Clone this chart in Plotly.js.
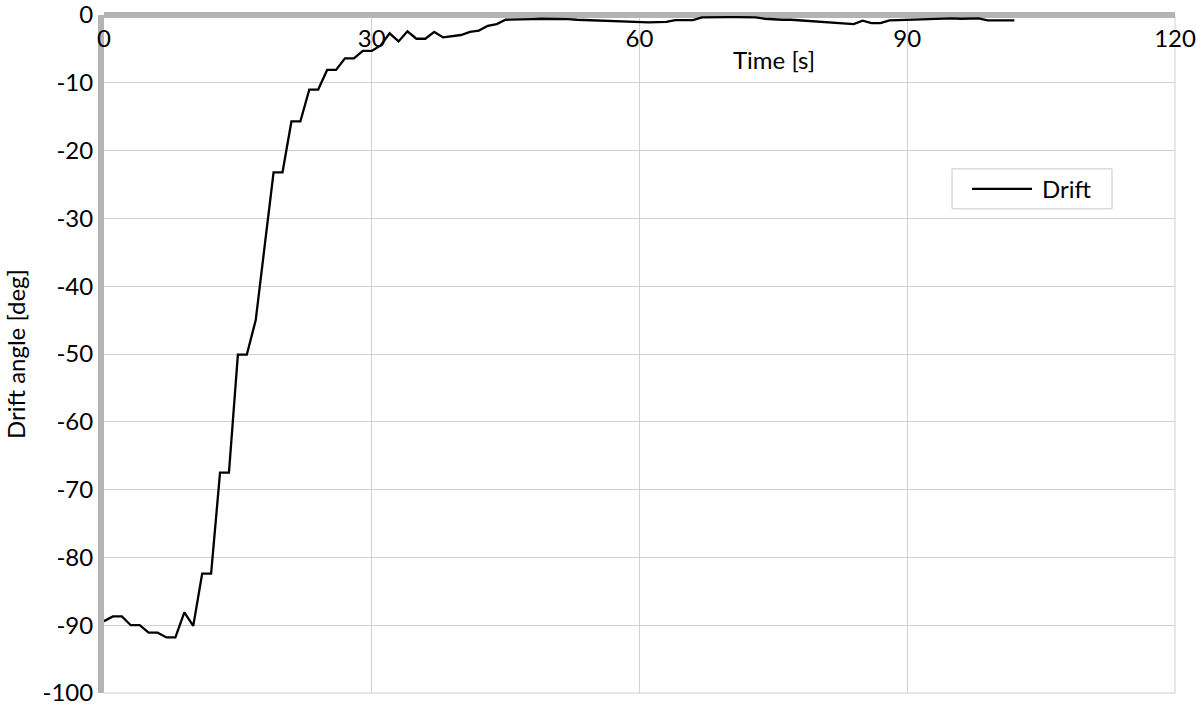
<!DOCTYPE html>
<html>
<head>
<meta charset="utf-8">
<script src="https://cdn.plot.ly/plotly-3.0.1.min.js"></script>
<style>html,body{margin:0;padding:0;background:#fff;}#chart{width:1196px;height:707px;}</style>
</head>
<body>
<div id="chart"></div>
<script>
const timeS = [0,1,2,3,4,5,6,7,8,9,10,11,12,13,14,15,16,17,18,19,20,21,22,23,24,25,26,27,28,29,30,31,32,33,34,35,36,37,38,39,40,41,42,43,44,45,46,47,48,49,50,51,52,53,54,55,56,57,58,59,60,61,62,63,64,65,66,67,68,69,70,71,72,73,74,75,76,77,78,79,80,81,82,83,84,85,86,87,88,89,90,91,92,93,94,95,96,97,98,99,100,101,102];
const driftDeg = [-89.4,-88.7,-88.7,-90.0,-90.0,-91.1,-91.1,-91.8,-91.8,-88.1,-90.1,-82.4,-82.4,-67.5,-67.5,-50.1,-50.1,-45.0,-34.1,-23.2,-23.2,-15.7,-15.7,-11.0,-11.0,-8.1,-8.1,-6.4,-6.4,-5.3,-5.3,-4.5,-2.7,-3.9,-2.4,-3.5,-3.5,-2.5,-3.3,-3.15,-2.95,-2.5,-2.3,-1.6,-1.35,-0.7,-0.7,-0.65,-0.6,-0.55,-0.55,-0.6,-0.6,-0.7,-0.75,-0.8,-0.85,-0.9,-0.95,-1.0,-1.1,-1.1,-1.05,-1.0,-0.75,-0.7,-0.75,-0.35,-0.3,-0.3,-0.3,-0.3,-0.3,-0.35,-0.55,-0.65,-0.7,-0.7,-0.8,-0.9,-1.0,-1.1,-1.2,-1.3,-1.35,-0.85,-1.2,-1.2,-0.8,-0.75,-0.7,-0.65,-0.6,-0.55,-0.55,-0.5,-0.55,-0.5,-0.5,-0.8,-0.8,-0.8,-0.8];
const xTicks = [0,30,60,90,120];
const yTicks = [0,-10,-20,-30,-40,-50,-60,-70,-80,-90,-100];
const seriesName = 'Drift';
const xTitle = 'Time [s]';
const yTitle = 'Drift angle [deg]';

const FONT = 'Lato, "Open Sans", sans-serif';
const FS = 24;
const data = [{
  x: timeS, y: driftDeg, type: 'scatter', mode: 'lines', name: seriesName,
  line: {color: '#000000', width: 2.3}, showlegend: false
}];
const layout = {
  width: 1196, height: 707,
  margin: {l: 104, r: 21, t: 15, b: 14},
  paper_bgcolor: '#ffffff', plot_bgcolor: '#ffffff',
  font: {family: FONT, size: FS, color: '#000'},
  showlegend: false,
  xaxis: {
    range: [0, 120], tickvals: xTicks, ticktext: xTicks.map(String),
    anchor: 'free', position: 1, side: 'bottom', layer: 'below traces',
    showline: true, linecolor: '#b4b4b4', linewidth: 6,
    showgrid: true, gridcolor: '#d0d0d0', gridwidth: 1,
    zeroline: false, ticks: '', tickfont: {size: FS}, ticklabelstandoff: 0,
    ticklabeloverflow: 'allow'
  },
  yaxis: {
    range: [-100, 0], tickvals: yTicks, ticktext: yTicks.map(String), layer: 'below traces',
    showline: true, linecolor: '#b4b4b4', linewidth: 6,
    showgrid: true, gridcolor: '#d0d0d0', gridwidth: 1,
    zeroline: false, ticks: '', tickfont: {size: FS}, ticklabeloverflow: 'allow',
    title: {text: yTitle, font: {size: FS}, standoff: 12}
  },
  annotations: [
    {text: xTitle, xref: 'paper', yref: 'paper', x: 0.6256, y: 0.934,
     xanchor: 'center', yanchor: 'middle', showarrow: false, font: {size: FS}},
    {text: seriesName, xref: 'paper', yref: 'paper', x: 0.8735, y: 0.7436,
     xanchor: 'left', yanchor: 'middle', showarrow: false, font: {size: FS}}
  ],
  shapes: [
    {type: 'line', xref: 'paper', yref: 'paper', x0: 1, x1: 1, y0: 0, y1: 1, line: {color: '#d0d0d0', width: 1}, layer: 'below'},
    {type: 'line', xref: 'paper', yref: 'paper', x0: 0, x1: 1, y0: 0, y1: 0, line: {color: '#d0d0d0', width: 1}, layer: 'below'},
    {type: 'rect', xref: 'paper', yref: 'paper', x0: 0.7918, x1: 0.9412, y0: 0.7141, y1: 0.7731, fillcolor: '#ffffff', line: {color: '#c8c8c8', width: 1}, layer: 'above'},
    {type: 'line', xref: 'paper', yref: 'paper', x0: 0.8105, x1: 0.8665, y0: 0.7436, y1: 0.7436, line: {color: '#000000', width: 2.3}, layer: 'above'}
  ]
};
Plotly.newPlot('chart', data, layout, {displayModeBar: false, staticPlot: true});
</script>
</body>
</html>
